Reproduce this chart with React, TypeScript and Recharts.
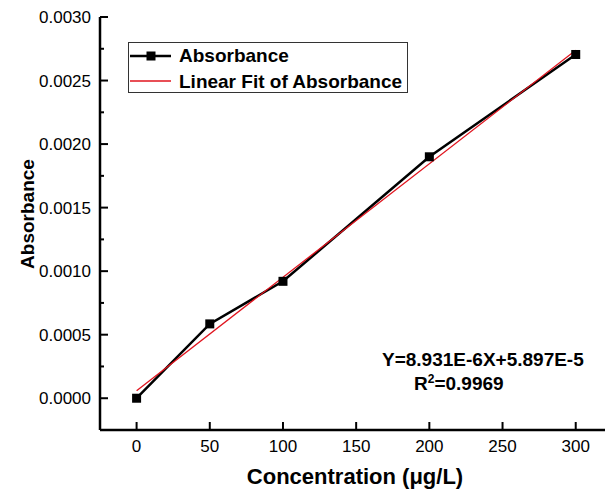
import React from 'react';
import {
  ComposedChart,
  Line,
  XAxis,
  YAxis,
} from 'recharts';

// measured concentrations (µg/L) and absorbance
const concentration = [0, 50, 100, 200, 300];
const absorbance = [0, 0.000585, 0.00092, 0.0019, 0.002705];

// linear fit endpoints (Y = 8.931E-6 X + 5.897E-5)
const fitX = [0, 300];
const fitY = [0.000059, 0.002738];

const xTicks = [0, 50, 100, 150, 200, 250, 300];
const yTicks = [
  0, 0.00025, 0.0005, 0.00075, 0.001, 0.00125, 0.0015, 0.00175, 0.002, 0.00225,
  0.0025, 0.00275, 0.003,
];

const measured = concentration.map((x, i) => ({ x, y: absorbance[i] }));
const fit = fitX.map((x, i) => ({ x, y: fitY[i] }));

const FONT = '"Liberation Sans", Arial, sans-serif';
const RED = '#e0141e';

const SquareDot = (props: any) => {
  const { cx, cy, index } = props;
  if (cx == null || cy == null) return <g key={`d-${index}`} />;
  return <rect key={`d-${index}`} x={cx - 4.5} y={cy - 4.5} width={9} height={9} fill="#000" />;
};

const YTick = (props: any) => {
  const { x, y, payload } = props;
  const v = payload.value as number;
  const major = Math.round(v * 10000) % 5 === 0;
  const axisX = x + 9;
  return (
    <g>
      <line x1={axisX} x2={axisX + (major ? 8 : 4)} y1={y} y2={y} stroke="#000" strokeWidth={2} />
      {major && (
        <text x={x} y={y} dy="0.36em" textAnchor="end" fontSize={17} fontFamily={FONT} fill="#000">
          {v.toFixed(4)}
        </text>
      )}
    </g>
  );
};

const XTick = (props: any) => {
  const { x, y, payload } = props;
  const axisY = y - 6;
  return (
    <g>
      <line x1={x} x2={x} y1={axisY} y2={axisY - 8} stroke="#000" strokeWidth={2} />
      <text x={x} y={axisY + 22} textAnchor="middle" fontSize={17} fontFamily={FONT} fill="#000">
        {payload.value}
      </text>
    </g>
  );
};

const App: React.FC = () => {
  return (
    <div style={{ position: 'absolute', left: 0, top: 0, width: 605, height: 497, background: '#fff' }}>
      <ComposedChart width={605} height={497} margin={{ top: 17, right: 0, left: 0, bottom: 0 }}>
        <XAxis
          xAxisId="top"
          orientation="top"
          type="number"
          dataKey="x"
          domain={[-25, 320]}
          allowDataOverflow
          height={0}
          tick={false}
          tickLine={false}
          axisLine={{ stroke: '#000', strokeWidth: 2.5 }}
        />
        <XAxis
          type="number"
          dataKey="x"
          domain={[-25, 320]}
          allowDataOverflow
          ticks={xTicks}
          interval={0}
          height={67}
          tickSize={0}
          tickMargin={6}
          tickLine={false}
          tick={<XTick />}
          axisLine={{ stroke: '#000', strokeWidth: 2.5 }}
        />
        <YAxis
          type="number"
          domain={[-0.00025, 0.003]}
          allowDataOverflow
          ticks={yTicks}
          interval={0}
          width={100}
          tickSize={0}
          tickMargin={9}
          tickLine={false}
          tick={<YTick />}
          axisLine={{ stroke: '#000', strokeWidth: 2.5 }}
        />
        <Line
          data={measured}
          dataKey="y"
          name="Absorbance"
          stroke="#000"
          strokeWidth={2.5}
          dot={SquareDot}
          activeDot={false}
          isAnimationActive={false}
        />
        <Line
          data={fit}
          dataKey="y"
          name="Linear Fit of Absorbance"
          stroke={RED}
          strokeWidth={1.3}
          dot={false}
          activeDot={false}
          isAnimationActive={false}
        />
      </ComposedChart>

      {/* axis titles */}
      <div
        style={{
          position: 'absolute', left: 0, width: 605, top: 466, textAlign: 'center', paddingLeft: 105,
          boxSizing: 'border-box', fontFamily: FONT, fontWeight: 'bold', fontSize: 22, lineHeight: '22px',
        }}
      >
        Concentration (μg/L)
      </div>
      <div
        style={{
          position: 'absolute', left: 28, top: 214, width: 0, height: 0, fontFamily: FONT,
        }}
      >
        <div
          style={{
            position: 'absolute', left: -80, top: -11, width: 160, textAlign: 'center', transform: 'rotate(-90deg)',
            fontWeight: 'bold', fontSize: 19, lineHeight: '22px',
          }}
        >
          Absorbance
        </div>
      </div>

      {/* legend */}
      <div
        style={{
          position: 'absolute', left: 128, top: 42, width: 280, height: 51, border: '1px solid #333',
          boxSizing: 'border-box', fontFamily: FONT, fontWeight: 'bold', fontSize: 19,
        }}
      >
        <svg width={50} height={51} style={{ position: 'absolute', left: 0, top: 0 }}>
          <line x1={1} x2={42} y1={13} y2={13} stroke="#000" strokeWidth={2.5} />
          <rect x={17.5} y={8.5} width={9} height={9} fill="#000" />
          <line x1={1} x2={42} y1={38} y2={38} stroke={RED} strokeWidth={1.5} />
        </svg>
        <div style={{ position: 'absolute', left: 50, top: 3, lineHeight: '19px', whiteSpace: 'nowrap' }}>Absorbance</div>
        <div style={{ position: 'absolute', left: 50, top: 29, lineHeight: '19px', whiteSpace: 'nowrap' }}>
          Linear Fit of Absorbance
        </div>
      </div>

      {/* fit equation */}
      <div
        style={{
          position: 'absolute', left: 382, top: 350, fontFamily: FONT, fontWeight: 'bold', fontSize: 19,
          lineHeight: '19px', whiteSpace: 'nowrap',
        }}
      >
        Y=8.931E-6X+5.897E-5
      </div>
      <div
        style={{
          position: 'absolute', left: 414, top: 374, fontFamily: FONT, fontWeight: 'bold', fontSize: 19,
          lineHeight: '19px', whiteSpace: 'nowrap',
        }}
      >
        R<sup style={{ fontSize: 12, lineHeight: 0, verticalAlign: '0.55em' }}>2</sup>=0.9969
      </div>
    </div>
  );
};

export default App;
